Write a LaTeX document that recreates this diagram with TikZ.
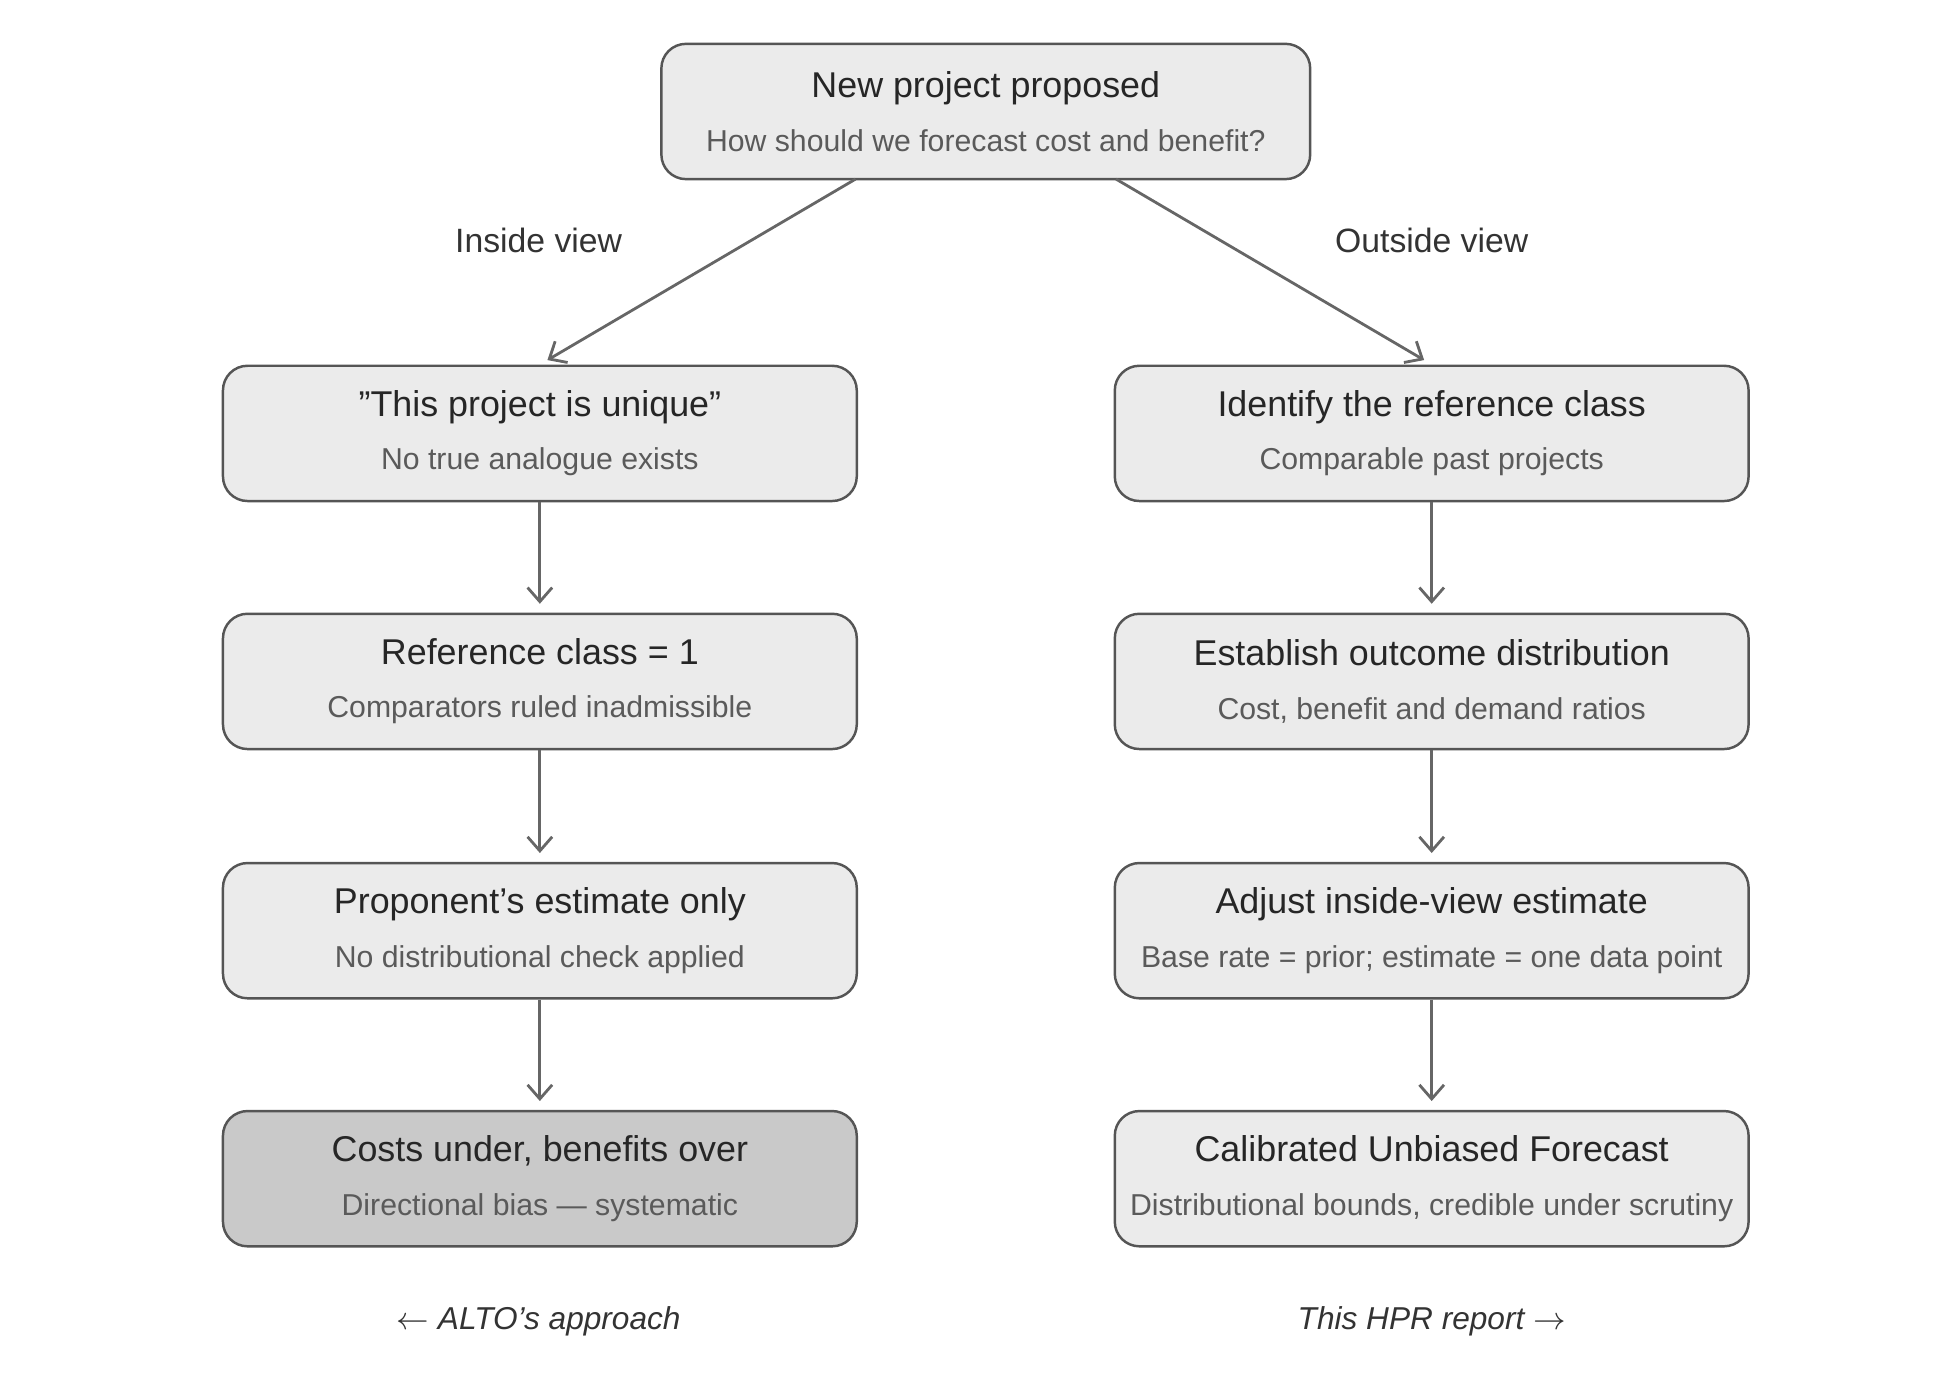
\documentclass[tikz,border=0pt]{standalone}
\usepackage{fontspec}
\setmainfont{Liberation Sans}
\usetikzlibrary{arrows.meta,positioning}

\definecolor{boxfill}{HTML}{EBEBEB}
\definecolor{darkfill}{HTML}{C9C9C9}
\definecolor{edgegray}{HTML}{555555}
\definecolor{subgray}{HTML}{5A5A5A}

\newcommand{\steptext}[2]{{\fontsize{10.2}{12}\selectfont\color{black!85}#1}\\[3.2pt]{\fontsize{8.6}{10}\selectfont\color{subgray}#2}}

\tikzset{
  stage/.style={draw=edgegray, line width=0.7pt, fill=boxfill, rounded corners=7pt,
    minimum width=506*0.012526cm, minimum height=108*0.012526cm, align=center, inner sep=0pt},
  flow/.style={draw=black!60, line width=0.8pt, -{Straight Barb[length=4pt,width=7pt]}, shorten >=2.5pt},
  side/.style={font=\fontsize{9.6}{11}\selectfont, text=black!80},
}

\begin{document}
\begin{tikzpicture}[x=0.012526cm, y=-0.012526cm]

  % canvas
  \useasboundingbox (0,0) rectangle (1560,1110);

  % top box
  \node[stage, minimum width=518*0.012526cm] (top) at (787,89) {\steptext{New project proposed}{How should we forecast cost and benefit?}};

  % inside view column
  \node[stage] (l1) at (431,346) {\steptext{"This project is unique"}{No true analogue exists}};
  \node[stage] (l2) at (431,544) {\steptext{Reference class = 1}{Comparators ruled inadmissible}};
  \node[stage] (l3) at (431,743) {\steptext{Proponent's estimate only}{No distributional check applied}};
  \node[stage, fill=darkfill] (l4) at (431,941) {\steptext{Costs under, benefits over}{Directional bias --- systematic}};

  % outside view column
  \node[stage] (r1) at (1143,346) {\steptext{Identify the reference class}{Comparable past projects}};
  \node[stage] (r2) at (1143,544) {\steptext{Establish outcome distribution}{Cost, benefit and demand ratios}};
  \node[stage] (r3) at (1143,743) {\steptext{Adjust inside-view estimate}{Base rate = prior; estimate = one data point}};
  \node[stage] (r4) at (1143,941) {\steptext{Calibrated Unbiased Forecast}{Distributional bounds, credible under scrutiny}};

  % branches
  \coordinate (tl) at (683,143);
  \coordinate (tr) at (891,143);
  \draw[flow] (tl) -- (l1.north);
  \draw[flow] (tr) -- (r1.north);
  \node[side] (inlab) at (430,192) {Inside view};
  \node[side] (outlab) at (1143,192) {Outside view};

  % vertical steps
  \foreach \a/\b in {l1/l2,l2/l3,l3/l4,r1/r2,r2/r3,r3/r4}
    \draw[flow] (\a) -- (\b);

  % footers
  \node[side, font=\fontsize{9}{11}\itshape] (altolab) at (430,1055) {$\leftarrow$ ALTO's approach};
  \node[side, font=\fontsize{9}{11}\itshape] (hprlab) at (1143,1055) {This HPR report $\rightarrow$};

\end{tikzpicture}
\end{document}
